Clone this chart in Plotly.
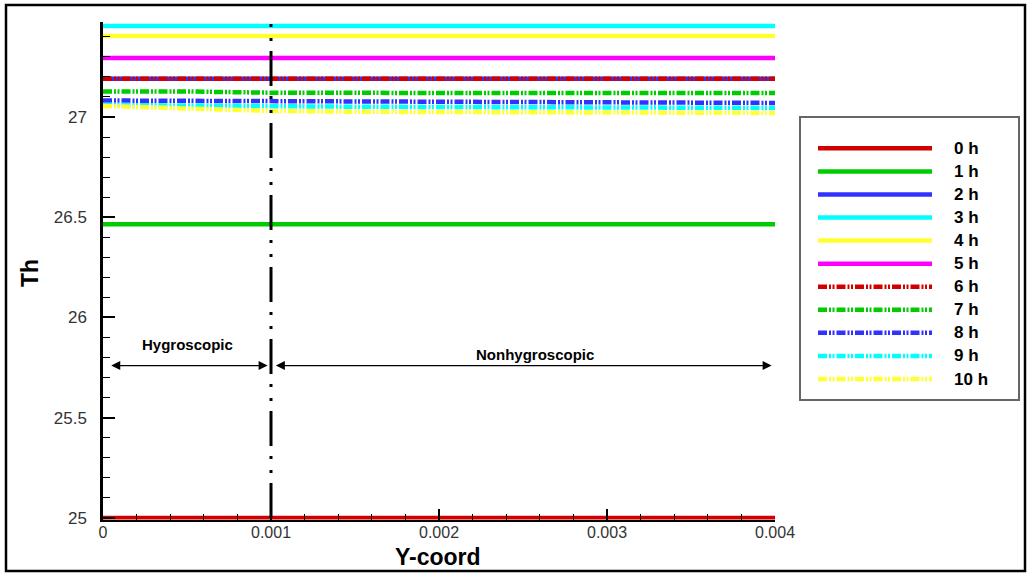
import plotly.graph_objects as go

# ---------------- data ----------------
x_coord = [0, 0.0005, 0.001, 0.0015, 0.002, 0.0025, 0.003, 0.0035, 0.004]
series_names = ["0 h", "1 h", "2 h", "3 h", "4 h", "5 h", "6 h", "7 h", "8 h", "9 h", "10 h"]
th_0h = [25.0] * 9
th_1h = [26.465] * 9
th_2h = [27.19] * 9
th_3h = [27.454] * 9
th_4h = [27.404] * 9
th_5h = [27.294] * 9
th_6h = [27.19] * 9
th_7h = [27.127, 27.127, 27.121, 27.119, 27.119, 27.119, 27.119, 27.119, 27.119]
th_8h = [27.082, 27.081, 27.076, 27.074, 27.074, 27.074, 27.074, 27.073, 27.070]
th_9h = [27.060, 27.059, 27.054, 27.051, 27.050, 27.049, 27.048, 27.047, 27.045]
th_10h = [27.055, 27.045, 27.030, 27.026, 27.024, 27.023, 27.022, 27.021, 27.020]
series_values = [th_0h, th_1h, th_2h, th_3h, th_4h, th_5h, th_6h, th_7h, th_8h, th_9h, th_10h]
series_colors = ["#d00000", "#00cc00", "#3232ff", "#00ffff", "#ffff33", "#ff00ff",
                 "#d00000", "#00cc00", "#3232ff", "#00ffff", "#ffff33"]
series_dash = ["solid"] * 6 + ["dashdotdot"] * 5

x_tickvals = [0, 0.001, 0.002, 0.003, 0.004]
x_ticktext = ["0", "0.001", "0.002", "0.003", "0.004"]
y_tickvals = [25, 25.5, 26, 26.5, 27]
y_ticktext = ["25", "25.5", "26", "26.5", "27"]

boundary_x = 0.001
region_labels = ["Hygroscopic", "Nonhygroscopic"]
arrow_y = 25.76
hyg_span = [0.00004, 0.00098]
non_span = [0.00102, 0.00398]
label_pos = [(0.0005, 25.865), (0.00257, 25.815)]

# ---------------- figure ----------------
W, H = 1028, 574
DDASH = "9px,2px,2px,1.5px,2px,2px"
FONT = "Liberation Sans, Arial, sans-serif"


def px_x(p):
    return p / W


def px_y(p):
    return 1 - p / H


fig = go.Figure()

for name, vals, col, dsh in zip(series_names, series_values, series_colors, series_dash):
    fig.add_trace(go.Scatter(
        x=x_coord, y=vals, mode="lines", name=name, showlegend=False,
        line=dict(color=col, width=4.5,
                  dash="solid" if dsh == "solid" else DDASH),
        xaxis="x", yaxis="y"))

# boundary dash-dot line
fig.add_trace(go.Scatter(
    x=[boundary_x, boundary_x], y=[25, 27.47], mode="lines", showlegend=False,
    line=dict(color="black", width=3, dash="35px,10px,3px,11px,3px,10px"),
    xaxis="x", yaxis="y"))

# custom legend drawn on its own small axes
for i, (name, col, dsh) in enumerate(zip(series_names, series_colors, series_dash)):
    fig.add_trace(go.Scatter(
        x=[0, 1], y=[i, i], mode="lines", showlegend=False,
        line=dict(color=col, width=4.5, dash="solid" if dsh == "solid" else DDASH),
        xaxis="x2", yaxis="y2"))

annotations = []
for i, name in enumerate(series_names):
    annotations.append(dict(
        x=px_x(952), y=i, xref="paper", yref="y2", text="<b>" + name + "</b>", showarrow=False,
        xanchor="left", yanchor="middle",
        font=dict(family=FONT, size=17, color="black")))

# region arrows and labels
for span in (hyg_span, non_span):
    annotations.append(dict(
        x=span[1], y=arrow_y, ax=span[0], ay=arrow_y, xref="x", yref="y",
        axref="x", ayref="y", text="", showarrow=True, arrowside="end+start",
        arrowhead=2, arrowsize=1.5, arrowwidth=1.2, arrowcolor="black",
        standoff=0, startstandoff=0))
for lbl, (lx, ly) in zip(region_labels, label_pos):
    annotations.append(dict(
        x=lx, y=ly, xref="x", yref="y", text="<b>" + lbl + "</b>", showarrow=False,
        xanchor="center", yanchor="middle",
        font=dict(family=FONT, size=15, color="black")))

# axis titles
annotations.append(dict(
    x=px_x(438), y=px_y(557), xref="paper", yref="paper", text="<b>Y-coord</b>",
    xanchor="center", yanchor="middle",
    showarrow=False, font=dict(family=FONT, size=23, color="black")))
annotations.append(dict(
    x=px_x(30), y=px_y(273), xref="paper", yref="paper", text="<b>Th</b>", textangle=-90,
    xanchor="center", yanchor="middle",
    showarrow=False, font=dict(family=FONT, size=23, color="black")))

shapes = [
    # legend box
    dict(type="rect", xref="paper", yref="paper", x0=px_x(800), x1=px_x(1019),
         y0=px_y(400), y1=px_y(117), line=dict(color="#666666", width=2), fillcolor="rgba(0,0,0,0)"),
    # outer frame
    dict(type="rect", xref="paper", yref="paper", x0=px_x(6), x1=px_x(1025),
         y0=px_y(571), y1=px_y(5), line=dict(color="black", width=2.5), fillcolor="rgba(0,0,0,0)"),
]

tick_font = dict(family=FONT, size=17, color="#333333")

fig.update_layout(
    width=W, height=H, autosize=False,
    margin=dict(l=0, r=0, t=0, b=0),
    paper_bgcolor="white", plot_bgcolor="white",
    showlegend=False,
    xaxis=dict(
        domain=[px_x(103), px_x(775)], range=[0, 0.004],
        tickvals=x_tickvals, ticktext=x_ticktext,
        ticks="inside", ticklen=11, tickwidth=1.5, tickcolor="black",
        minor=dict(dtick=0.0002, ticks="inside", ticklen=6, tickwidth=1.2, tickcolor="black"),
        showline=True, linecolor="black", linewidth=2, layer="above traces",
        showgrid=False, zeroline=False, tickfont=dict(family=FONT, size=16, color="#333333"),
        ticklabelstandoff=-3,
        automargin=False, anchor="y"),
    yaxis=dict(
        domain=[px_y(519.6), px_y(22)], range=[24.992, 27.4736],
        tickvals=y_tickvals, ticktext=y_ticktext,
        ticks="inside", ticklen=12, tickwidth=1.5, tickcolor="black",
        minor=dict(dtick=0.1, ticks="inside", ticklen=7, tickwidth=1.2, tickcolor="black"),
        showline=True, linecolor="black", linewidth=2.5,
        showgrid=False, zeroline=False, tickfont=tick_font, ticklabelstandoff=10,
        automargin=False, anchor="x"),
    xaxis2=dict(domain=[px_x(818), px_x(932)], range=[0, 1], visible=False,
                anchor="y2", fixedrange=True),
    yaxis2=dict(domain=[px_y(400), px_y(117)], range=[10.91, -1.357], visible=False,
                anchor="x2", fixedrange=True),
    annotations=annotations,
    shapes=shapes,
)

fig.write_html("out.html")
